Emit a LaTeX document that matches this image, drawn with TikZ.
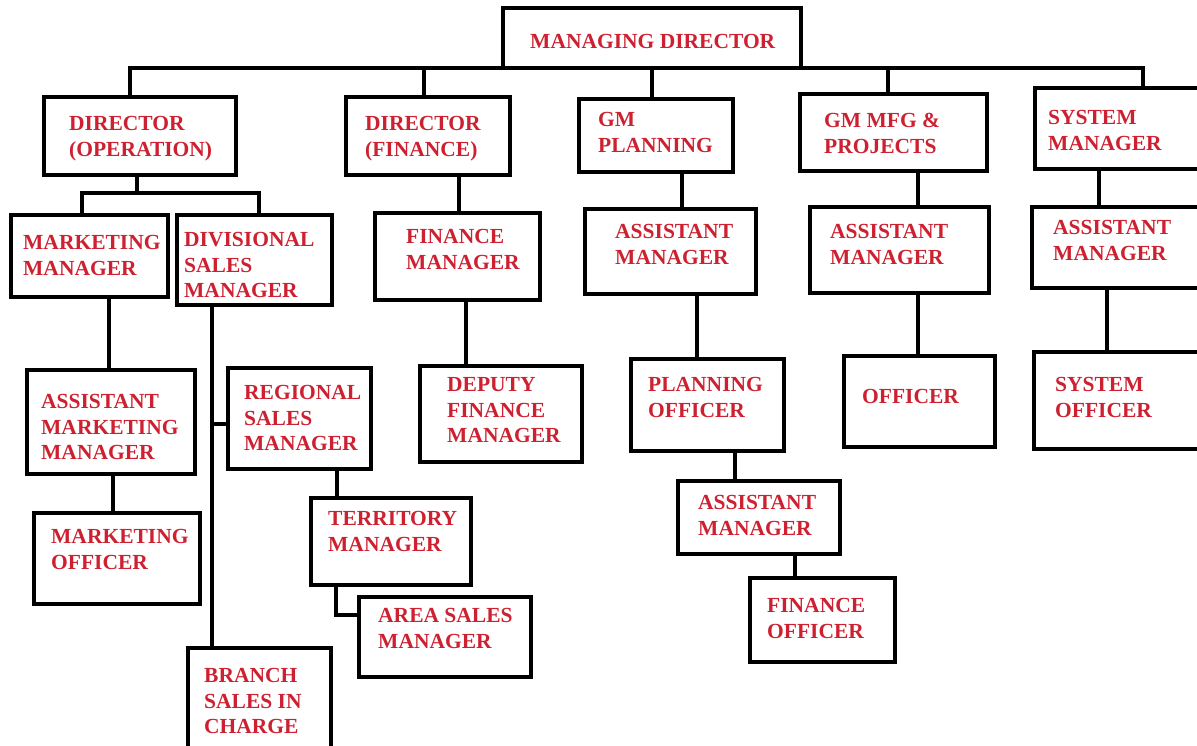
\documentclass[tikz,border=0pt]{standalone}
\usepackage{fontspec}
\setmainfont{Liberation Serif}
\usetikzlibrary{fit}
\definecolor{postred}{RGB}{205,32,48}

\begin{document}
\begin{tikzpicture}[x=1pt,y=-1pt]
\tikzset{post/.style = {draw, line width=3.6pt, inner sep=0pt}}
\tikzset{title/.style = {anchor=north west, inner sep=0pt, align=left, text=postred,
  font=\bfseries\fontsize{21.5}{25.5}\selectfont}}
\tikzset{link/.style = {line width=3.6pt}}
\clip (0,0) rectangle (1197,746);
% boxes
\node[post, fit={(503,8) (801,68)}]      (md)      {};
\node[post, fit={(44,97) (236,175)}]     (dirop)   {};
\node[post, fit={(346,97) (510,175)}]    (dirfin)  {};
\node[post, fit={(579,99) (733,172)}]    (gmplan)  {};
\node[post, fit={(800,94) (987,171)}]    (gmmfg)   {};
\node[post, fit={(1035,88) (1210,169)}]  (sysmgr)  {};
\node[post, fit={(11,215) (168,297)}]    (mktmgr)  {};
\node[post, fit={(177,215) (332,305)}]   (divmgr)  {};
\node[post, fit={(375,213) (540,300)}]   (finmgr)  {};
\node[post, fit={(585,209) (756,294)}]   (amplan)  {};
\node[post, fit={(810,207) (989,293)}]   (ammfg)   {};
\node[post, fit={(1032,207) (1210,288)}] (amsys)   {};
\node[post, fit={(27,370) (195,474)}]    (amm)     {};
\node[post, fit={(34,513) (200,604)}]    (mo)      {};
\node[post, fit={(228,368) (371,469)}]   (rsm)     {};
\node[post, fit={(188,648) (331,760)}]   (branch)  {};
\node[post, fit={(311,498) (471,585)}]   (tm)      {};
\node[post, fit={(359,597) (531,677)}]   (asm)     {};
\node[post, fit={(420,366) (582,462)}]   (dfm)     {};
\node[post, fit={(631,359) (784,451)}]   (po)      {};
\node[post, fit={(678,481) (840,554)}]   (am2)     {};
\node[post, fit={(750,578) (895,662)}]   (fo)      {};
\node[post, fit={(844,356) (995,447)}]   (officer) {};
\node[post, fit={(1034,352) (1210,449)}] (syso)    {};
% texts
\node[title] (md-t)      at (530,34.5)   {MANAGING DIRECTOR};
\node[title] (dirop-t)   at (69,116.5)   {DIRECTOR\\(OPERATION)};
\node[title] (dirfin-t)  at (365,116.5)  {DIRECTOR\\(FINANCE)};
\node[title] (gmplan-t)  at (598,112.5)  {GM\\PLANNING};
\node[title] (gmmfg-t)   at (824,113.5)  {GM MFG \&\\PROJECTS};
\node[title] (sysmgr-t)  at (1048,110.5) {SYSTEM\\MANAGER};
\node[title] (mktmgr-t)  at (23,235.5)   {MARKETING\\MANAGER};
\node[title] (divmgr-t)  at (184,232.5)  {DIVISIONAL\\SALES\\MANAGER};
\node[title] (finmgr-t)  at (406,229.5)  {FINANCE\\MANAGER};
\node[title] (amplan-t)  at (615,224.5)  {ASSISTANT\\MANAGER};
\node[title] (ammfg-t)   at (830,224.5)  {ASSISTANT\\MANAGER};
\node[title] (amsys-t)   at (1053,220.5) {ASSISTANT\\MANAGER};
\node[title] (amm-t)     at (41,394.5)   {ASSISTANT\\MARKETING\\MANAGER};
\node[title] (mo-t)      at (51,529.5)   {MARKETING\\OFFICER};
\node[title] (rsm-t)     at (244,385.5)  {REGIONAL\\SALES\\MANAGER};
\node[title] (branch-t)  at (204,668.5)  {BRANCH\\SALES IN\\CHARGE};
\node[title] (tm-t)      at (328,511.5)  {TERRITORY\\MANAGER};
\node[title] (asm-t)     at (378,608.5)  {AREA SALES\\MANAGER};
\node[title] (dfm-t)     at (447,377.5)  {DEPUTY\\FINANCE\\MANAGER};
\node[title] (po-t)      at (648,377.5)  {PLANNING\\OFFICER};
\node[title] (am2-t)     at (698,495.5)  {ASSISTANT\\MANAGER};
\node[title] (fo-t)      at (767,598.5)  {FINANCE\\OFFICER};
\node[title] (officer-t) at (862,389.5)  {OFFICER};
\node[title] (syso-t)    at (1055,377.5) {SYSTEM\\OFFICER};
% joints
\coordinate (b1) at (130,68);
\coordinate (b2) at (424,68);
\coordinate (b3) at (652,68);
\coordinate (b4) at (888,68);
\coordinate (b5) at (1143,68);
\coordinate (s1) at (137,193);
\coordinate (s2) at (82,193);
\coordinate (s3) at (259,193);
\coordinate (jdf)   at (459,190);
\coordinate (jplan) at (682,190);
\coordinate (jmfg)  at (918,190);
\coordinate (jsys)  at (1099,190);
\coordinate (jmkt)  at (109,330);
\coordinate (jamm)  at (113,490);
\coordinate (jdiv)  at (212,424);
\coordinate (jreg)  at (337,480);
\coordinate (jter)  at (336,615);
\coordinate (jfin)  at (466,330);
\coordinate (jpo)   at (697,330);
\coordinate (jam)   at (735,470);
\coordinate (jfo)   at (795,565);
\coordinate (jofc)  at (918,320);
\coordinate (jsyso) at (1107,320);
% links
\draw[link] (dirop.north -| b1) -- (b1) -- (b5) -- (sysmgr.north -| b5);
\draw[link] (b2) -- (dirfin.north -| b2);
\draw[link] (b3) -- (gmplan.north -| b3);
\draw[link] (b4) -- (gmmfg.north -| b4);
\draw[link] (dirop.south -| s1) -- (s1);
\draw[link] (mktmgr.north -| s2) -- (s2) -- (s3) -- (divmgr.north -| s3);
\draw[link] (dirfin.south -| jdf) -- (finmgr.north -| jdf);
\draw[link] (gmplan.south -| jplan) -- (amplan.north -| jplan);
\draw[link] (gmmfg.south -| jmfg) -- (ammfg.north -| jmfg);
\draw[link] (sysmgr.south -| jsys) -- (amsys.north -| jsys);
\draw[link] (mktmgr.south -| jmkt) -- (amm.north -| jmkt);
\draw[link] (amm.south -| jamm) -- (mo.north -| jamm);
\draw[link] (divmgr.south -| jdiv) -- (branch.north -| jdiv);
\draw[link] (jdiv) -- (rsm.west |- jdiv);
\draw[link] (rsm.south -| jreg) -- (tm.north -| jreg);
\draw[link] (tm.south -| jter) -- (jter) -- (asm.west |- jter);
\draw[link] (finmgr.south -| jfin) -- (dfm.north -| jfin);
\draw[link] (amplan.south -| jpo) -- (po.north -| jpo);
\draw[link] (po.south -| jam) -- (am2.north -| jam);
\draw[link] (am2.south -| jfo) -- (fo.north -| jfo);
\draw[link] (ammfg.south -| jofc) -- (officer.north -| jofc);
\draw[link] (amsys.south -| jsyso) -- (syso.north -| jsyso);
\end{tikzpicture}
\end{document}
